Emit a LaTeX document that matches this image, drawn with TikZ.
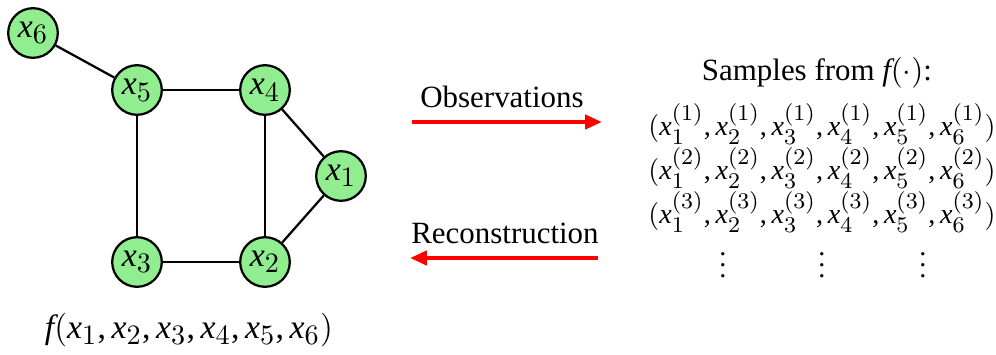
\documentclass[tikz,border=0pt]{standalone}
\usepackage{fontspec}
\setmainfont{Liberation Serif}
\usepackage[italic]{mathastext}
\usetikzlibrary{arrows.meta, positioning}
\definecolor{nodegreen}{RGB}{144,238,144}
\definecolor{myred}{RGB}{255,0,0}
\newcommand{\smp}[2]{x_{#1}^{(#2)}}
\newcommand{\smprow}[1]{$(\smp{1}{#1},\smp{2}{#1},\smp{3}{#1},\smp{4}{#1},\smp{5}{#1},\smp{6}{#1})$}
\tikzset{
  var/.style={circle, draw=black, fill=nodegreen, line width=0.8pt,
    minimum size=0.62cm, inner sep=0pt, font=\large},
  edge/.style={line width=0.8pt, color=black},
  redarrow/.style={-{Triangle[length=6pt,width=5pt]}, line width=1.4pt, color=myred},
  lbl/.style={font=\fontsize{11}{13}\selectfont, inner sep=1pt},
  row/.style={font=\normalsize, inner sep=1pt}
}
\begin{document}
\begin{tikzpicture}[x=0.0125cm, y=-0.0125cm]
  \useasboundingbox (0,0) rectangle (996,354);
  % Graph
  \node[var] (x6) at (33,33) {$x_6$};
  \node[var] (x5) at (137,90) {$x_5$};
  \node[var] (x4) at (265,90) {$x_4$};
  \node[var] (x1) at (341,176) {$x_1$};
  \node[var] (x3) at (137,262) {$x_3$};
  \node[var] (x2) at (265,262) {$x_2$};
  \draw[edge] (x6) -- (x5);
  \draw[edge] (x5) -- (x4);
  \draw[edge] (x5) -- (x3);
  \draw[edge] (x4) -- (x2);
  \draw[edge] (x3) -- (x2);
  \draw[edge] (x4) -- (x1);
  \draw[edge] (x1) -- (x2);
  \node[lbl, font=\large] (func) at (189,330) {$f(x_1,x_2,x_3,x_4,x_5,x_6)$};
  % Arrows
  \coordinate (obs-a) at (412,122);
  \coordinate (obs-b) at (602,122);
  \coordinate (rec-a) at (598,258);
  \coordinate (rec-b) at (410,258);
  \draw[redarrow] (obs-a) -- (obs-b);
  \draw[redarrow] (rec-a) -- (rec-b);
  \node[lbl] (obs) at (502,97) {Observations};
  \node[lbl] (rec) at (505,233) {Reconstruction};
  % Samples
  \node[lbl] (title) at (817,73) {Samples from $f(\cdot)$:};
  \node[row] (row1) at (822,124) {\smprow{1}};
  \node[row] (row2) at (822,168) {\smprow{2}};
  \node[row] (row3) at (822,212) {\smprow{3}};
  \node[row] (dots1) at (723,257) {$\vdots$};
  \node[row] (dots2) at (822,257) {$\vdots$};
  \node[row] (dots3) at (923,257) {$\vdots$};
\end{tikzpicture}
\end{document}
